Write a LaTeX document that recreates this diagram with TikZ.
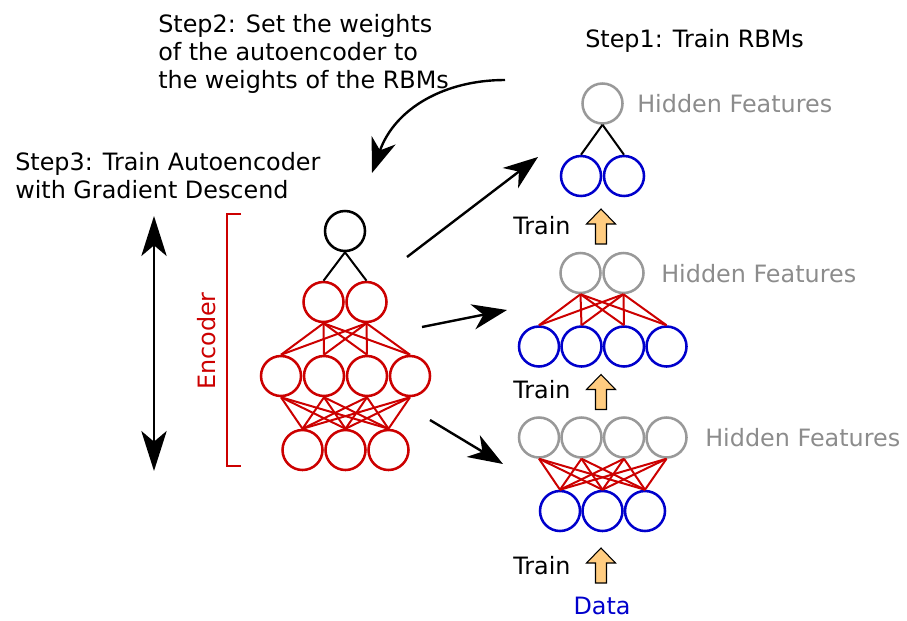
\documentclass[tikz,border=0pt]{standalone}
\usepackage{fontspec}
\setmainfont{DejaVu Sans}
\usetikzlibrary{arrows.meta}
\definecolor{cred}{rgb}{0.8, 0.0, 0.0}
\definecolor{cblue}{rgb}{0.0, 0.0, 0.8}
\definecolor{cgrey}{rgb}{0.6, 0.6, 0.6}
\definecolor{ctext}{rgb}{0.55, 0.55, 0.55}
\definecolor{corange}{rgb}{1.0, 0.8, 0.5}

\tikzset{
  unit/.style={circle, draw, line width=1.9pt, minimum size=30pt, inner sep=0pt},
  hid/.style={unit, cgrey},
  vis/.style={unit, cblue},
  enc/.style={unit, cred},
  wire/.style={line width=1.5pt, cred},
  bigarrow/.style={line width=1.8pt, -{Stealth[length=26pt, width=19pt, inset=8pt]}},
  txt/.style={inner sep=0pt, align=left, font=\fontsize{17.9}{21}\selectfont},
  trainup/.pic={
    \draw [fill=corange, line width=0.8pt] (-5.5, 17.5) -- (-5.5, -2.5) -- (-14.5, -2.5)
      -- (0, -17.5) -- (14.5, -2.5) -- (5.5, -2.5) -- (5.5, 17.5) -- cycle;
  }
}

\begin{document}
\begin{tikzpicture}[x=0.75pt, y=-0.75pt]
  \useasboundingbox (0, 0) rectangle (907, 621);

  % texts
  \node [txt, anchor=base west] (step2) at (158, 88)
    {Step2: Set the weights\\of the autoencoder to\\the weights of the RBMs};
  \node [txt, anchor=base west] (step1) at (585, 47) {Step1: Train RBMs};
  \node [txt, anchor=base west] (step3) at (15, 198)
    {Step3: Train Autoencoder\\with Gradient Descend};

  % autoencoder
  \node [unit] (a0) at (345, 231) {};
  \node [enc] (b1) at (323.5, 302) {};
  \node [enc] (b2) at (366.5, 302) {};
  \node [enc] (c1) at (281, 376) {};
  \node [enc] (c2) at (324, 376) {};
  \node [enc] (c3) at (367, 376) {};
  \node [enc] (c4) at (410, 376) {};
  \node [enc] (d1) at (302.5, 450) {};
  \node [enc] (d2) at (345.5, 450) {};
  \node [enc] (d3) at (388.5, 450) {};

  \draw [line width=1.5pt] (a0.south) -- (b1.north);
  \draw [line width=1.5pt] (a0.south) -- (b2.north);
  \foreach \i in {1,2}
    \foreach \j in {1,...,4}
      \draw [wire] (b\i.south) -- (c\j.north);
  \foreach \i in {1,...,4}
    \foreach \j in {1,2,3}
      \draw [wire] (c\i.south) -- (d\j.north);

  % encoder bracket
  \draw [cred, line width=1pt] (241, 214) -- (227, 214) -- (227, 466) -- (241, 466);
  \node [txt, cred, rotate=90] (enc) at (207, 341) {Encoder};

  % gradient descend arrow
  \coordinate (gtop) at (154, 216);
  \coordinate (gbot) at (154, 471);
  \draw [line width=1.8pt, {Stealth[length=30pt, width=19pt, inset=8pt]}-{Stealth[length=30pt, width=19pt, inset=8pt]}]
    (gtop) -- (gbot);

  % top rbm
  \node [hid] (h1) at (602.5, 103.5) {};
  \node [vis] (v1) at (581, 176) {};
  \node [vis] (v2) at (624, 176) {};
  \draw [line width=1.5pt] (h1.south) -- (v1.north);
  \draw [line width=1.5pt] (h1.south) -- (v2.north);
  \node [txt, ctext, anchor=west] (hf1) at (637, 104) {Hidden Features};

  % middle rbm
  \node [hid] (m1) at (580.5, 273) {};
  \node [hid] (m2) at (623.5, 273) {};
  \node [vis] (n1) at (539, 346.5) {};
  \node [vis] (n2) at (581.5, 346.5) {};
  \node [vis] (n3) at (624, 346.5) {};
  \node [vis] (n4) at (666.5, 346.5) {};
  \foreach \i in {1,2}
    \foreach \j in {1,...,4}
      \draw [wire] (m\i.south) -- (n\j.north);
  \node [txt, ctext, anchor=west] (hf2) at (661, 274) {Hidden Features};

  % bottom rbm
  \node [hid] (p1) at (539, 437.5) {};
  \node [hid] (p2) at (581.5, 437.5) {};
  \node [hid] (p3) at (624, 437.5) {};
  \node [hid] (p4) at (666.5, 437.5) {};
  \node [vis] (q1) at (560, 511) {};
  \node [vis] (q2) at (602.5, 511) {};
  \node [vis] (q3) at (645, 511) {};
  \foreach \i in {1,...,4}
    \foreach \j in {1,2,3}
      \draw [wire] (p\i.south) -- (q\j.north);
  \node [txt, ctext, anchor=west] (hf3) at (705, 438) {Hidden Features};

  % training
  \node [txt, anchor=west] (tr1) at (513, 226) {Train};
  \node [txt, anchor=west] (tr2) at (513, 390) {Train};
  \node [txt, anchor=west] (tr3) at (513, 566) {Train};
  \pic at (601, 226.5) {trainup};
  \pic at (601, 392) {trainup};
  \pic at (601, 565.5) {trainup};
  \node [txt, cblue] (data) at (602, 606) {Data};

  % arrows between the nets
  \coordinate (s1) at (505, 80);
  \coordinate (e1) at (372, 173);
  \draw [bigarrow] (s1) .. controls (445, 80) and (395, 108) .. (e1);
  \coordinate (s2) at (407, 257);
  \coordinate (e2) at (538, 157);
  \draw [bigarrow] (s2) -- (e2);
  \coordinate (s3) at (422, 327);
  \coordinate (e3) at (507, 310);
  \draw [bigarrow] (s3) -- (e3);
  \coordinate (s4) at (430, 420);
  \coordinate (e4) at (503, 464);
  \draw [bigarrow] (s4) -- (e4);
\end{tikzpicture}
\end{document}
